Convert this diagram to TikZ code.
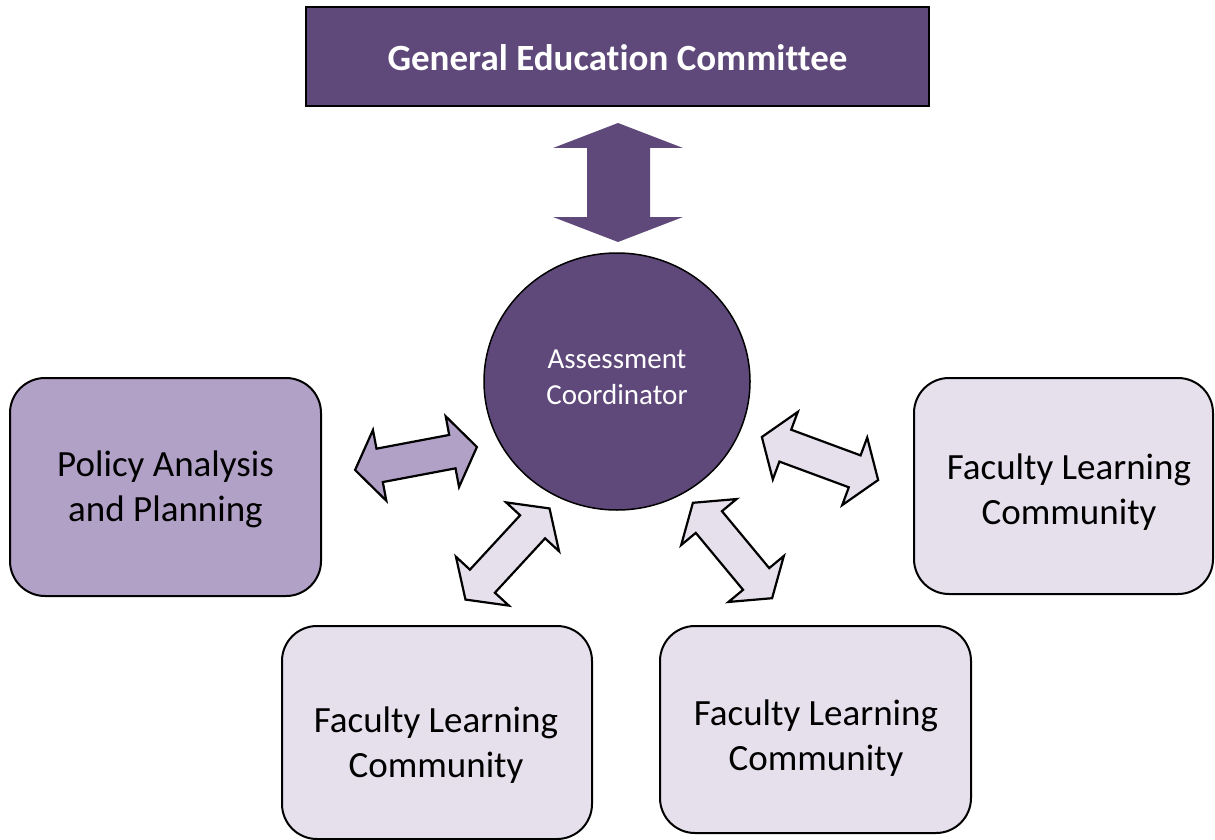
\documentclass[tikz,border=0pt]{standalone}
\usepackage{fontspec}
\setmainfont{Carlito}[Ligatures={NoCommon}]
\usetikzlibrary{shapes.geometric}
\definecolor{dpurple}{HTML}{5F497A}
\definecolor{mpurple}{HTML}{B2A1C7}
\definecolor{lpurple}{HTML}{E5E0EC}
\tikzset{
  roundbox/.style={draw=black, line width=2pt, rounded corners=35pt, inner sep=0pt},
  lbl/.style={align=center, font=\fontsize{37}{45}\selectfont, text=black, inner sep=0pt},
  blockarrow/.style={draw=black, line width=2.2pt, line join=miter},
}
\newcommand{\dblarrow}[3]{%
  \path[shift={#1}, rotate=#2, blockarrow, fill=#3]
    (-62,0) -- (-37,36) -- (-37,17) -- (37,17) -- (37,36) -- (62,0)
    -- (37,-36) -- (37,-17) -- (-37,-17) -- (-37,-36) -- cycle;}
\begin{document}
\begin{tikzpicture}[x=1pt,y=-1pt]
\useasboundingbox (0,0) rectangle (1215,840);
% top box
\node[draw=black, line width=2pt, fill=dpurple, minimum width=623pt, minimum height=99pt, inner sep=0pt] (gec) at (617.5,57) {};
\node[text=white, font=\fontsize{37}{44}\selectfont\bfseries, inner sep=0pt] (gectext) at (617.5,58) {General Education Committee};
% vertical double arrow
\fill[dpurple] (587,148) -- (553,148) -- (618,123) -- (683,148) -- (650,148) -- (650,217)
  -- (683,217) -- (618,242) -- (553,217) -- (587,217) -- cycle;
% central circle
\node[ellipse, draw=black, line width=1.5pt, fill=dpurple, minimum width=266pt, minimum height=257pt, inner sep=0pt] (ac) at (617,381.5) {};
\node[align=center, text=white, font=\fontsize{29}{36}\selectfont, inner sep=0pt] (actext) at (617,377) {Assessment\\Coordinator};
% side boxes
\node[roundbox, fill=mpurple, minimum width=311pt, minimum height=218pt] (pap) at (165.5,487) {};
\node[lbl] (paptext) at (165.5,489) {Policy Analysis\\and Planning};
\node[roundbox, fill=lpurple, minimum width=299pt, minimum height=216pt] (flc1) at (1063.5,486) {};
\node[lbl] (flc1text) at (1069,492) {Faculty Learning\\Community};
\node[roundbox, fill=lpurple, minimum width=310pt, minimum height=213pt] (flc2) at (437,732.5) {};
\node[lbl] (flc2text) at (436,745.5) {Faculty Learning\\Community};
\node[roundbox, fill=lpurple, minimum width=311pt, minimum height=207pt] (flc3) at (815.5,729.5) {};
\node[lbl] (flc3text) at (816,738.5) {Faculty Learning\\Community};
% block arrows
\dblarrow{(416,458.5)}{10.7}{mpurple}
\dblarrow{(507.5,554)}{47.3}{lpurple}
\dblarrow{(732.5,550.5)}{-50.3}{lpurple}
\dblarrow{(820,458.5)}{-20.3}{lpurple}
\end{tikzpicture}
\end{document}
